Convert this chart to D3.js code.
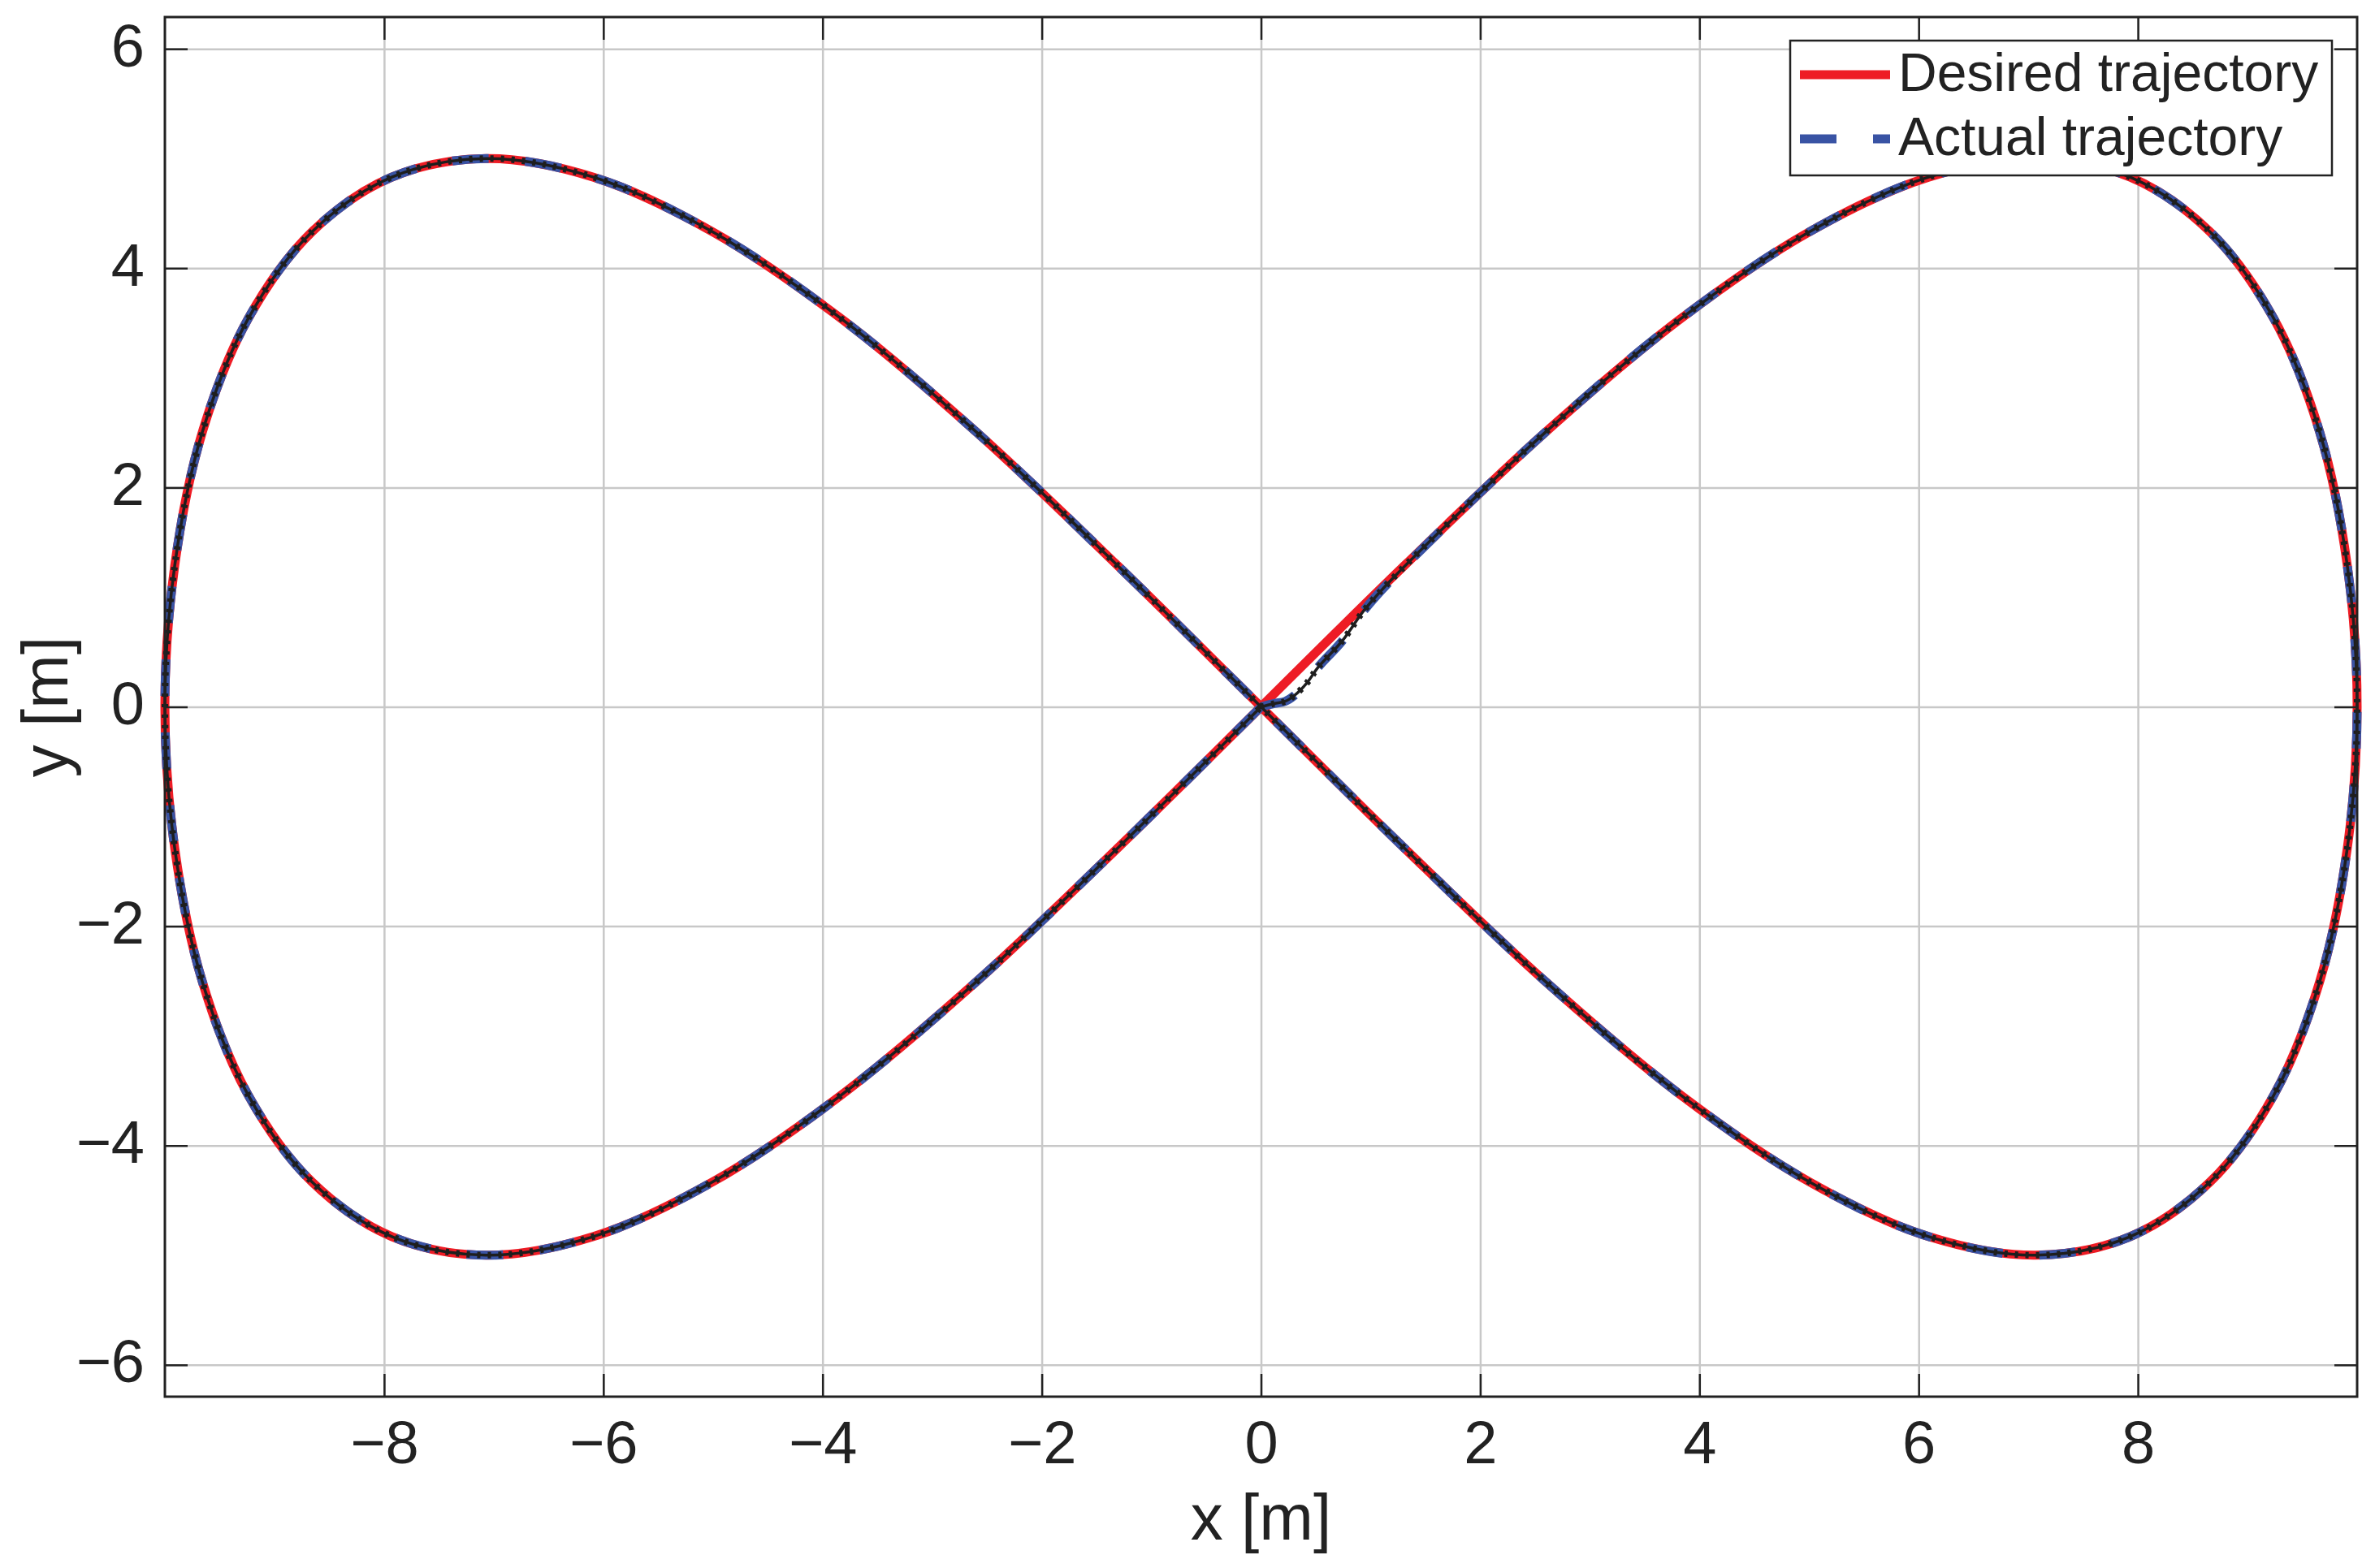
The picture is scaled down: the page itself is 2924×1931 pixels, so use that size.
<!DOCTYPE html>
<html>
<head>
<meta charset="utf-8">
<script src="https://cdn.jsdelivr.net/npm/d3@7"></script>
<style>
  body { margin: 0; background: #fff; }
  svg { display: block; }
  text { font-family: "Liberation Sans", Arial, Helvetica, sans-serif; fill: #222; }
</style>
</head>
<body>
<div id="chart"></div>
<script>
// Desired figure-eight trajectory [m]
var desiredX = [0, 1.31, 2.59, 3.83, 5.00, 6.09, 7.07, 7.93, 8.66, 9.24, 9.66, 9.91, 10.00,
    9.91, 9.66, 9.24, 8.66, 7.93, 7.07, 6.09, 5.00, 3.83, 2.59, 1.31, 0,
    -1.31, -2.59, -3.83, -5.00, -6.09, -7.07, -7.93, -8.66, -9.24, -9.66, -9.91, -10.00,
    -9.91, -9.66, -9.24, -8.66, -7.93, -7.07, -6.09, -5.00, -3.83, -2.59, -1.31, 0];
var desiredY = [0, 1.29, 2.50, 3.54, 4.33, 4.83, 5.00, 4.83, 4.33, 3.54, 2.50, 1.29, 0,
    -1.29, -2.50, -3.54, -4.33, -4.83, -5.00, -4.83, -4.33, -3.54, -2.50, -1.29, 0,
    1.29, 2.50, 3.54, 4.33, 4.83, 5.00, 4.83, 4.33, 3.54, 2.50, 1.29, 0,
    -1.29, -2.50, -3.54, -4.33, -4.83, -5.00, -4.83, -4.33, -3.54, -2.50, -1.29, 0];

// Actual trajectory: start-up transient near the origin, then it tracks the desired path
var actualStartX = [0, 0.12, 0.22, 0.30, 0.42, 0.52, 0.74, 0.94, 1.20];
var actualStartY = [0, 0.03, 0.05, 0.10, 0.22, 0.36, 0.60, 0.88, 1.17];

var xTicks = [-8, -6, -4, -2, 0, 2, 4, 6, 8];
var yTicks = [-6, -4, -2, 0, 2, 4, 6];
var legendLabels = ["Desired trajectory", "Actual trajectory"];

var svgWidth = 2924;
var svgHeight = 1931;
var margin = { top: 21, right: 22, bottom: 211, left: 203 };
var width = svgWidth - margin.left - margin.right;
var height = svgHeight - margin.top - margin.bottom;

var svg = d3.select("#chart")
    .append("svg")
    .attr("width", svgWidth)
    .attr("height", svgHeight);

var chartGroup = svg.append("g")
    .attr("transform", `translate(${margin.left}, ${margin.top})`);

var xLinear = d3.scaleLinear().domain([-10, 10]).range([0, width]);
var yLinear = d3.scaleLinear().domain([-6.29, 6.29]).range([height, 0]);

// grid
chartGroup.append("g")
    .attr("transform", `translate(0, ${height})`)
    .call(d3.axisBottom(xLinear).tickValues(xTicks).tickSize(-height).tickFormat(""))
    .call(g => g.select(".domain").remove())
    .call(g => g.selectAll("line").attr("stroke", "#c8c8c8").attr("stroke-width", 2.5));
chartGroup.append("g")
    .call(d3.axisLeft(yLinear).tickValues(yTicks).tickSize(-width).tickFormat(""))
    .call(g => g.select(".domain").remove())
    .call(g => g.selectAll("line").attr("stroke", "#c8c8c8").attr("stroke-width", 2.5));

// trajectories
var desired = desiredX.map((x, i) => [x, desiredY[i]]);
var actual = actualStartX.map((x, i) => [x, actualStartY[i]]).concat(desired.slice(2));

var line = d3.line()
    .x(d => xLinear(d[0]))
    .y(d => yLinear(d[1]))
    .curve(d3.curveCatmullRom.alpha(0.5));

chartGroup.append("path")
    .datum(desired)
    .attr("d", line)
    .attr("fill", "none")
    .attr("stroke", "#ee1c25")
    .attr("stroke-width", 11);

chartGroup.append("path")
    .datum(actual)
    .attr("d", line)
    .attr("fill", "none")
    .attr("stroke", "#3953a4")
    .attr("stroke-width", 11)
    .attr("stroke-dasharray", "45 45");

// thin black line with small direction markers
chartGroup.append("path")
    .datum(actual)
    .attr("d", line)
    .attr("fill", "none")
    .attr("stroke", "#1e1e1e")
    .attr("stroke-width", 3.5);
chartGroup.append("path")
    .datum(actual)
    .attr("d", line)
    .attr("fill", "none")
    .attr("stroke", "#1e1e1e")
    .attr("stroke-width", 8)
    .attr("stroke-dasharray", "4 9");

// axes with inward ticks on all four sides
function styleAxis(g) {
    g.select(".domain").remove();
    g.selectAll("line").attr("stroke", "#222").attr("stroke-width", 2.5);
    g.selectAll("text")
        .style("font-size", "74px")
        .style("font-family", "'Liberation Sans', Arial, sans-serif")
        .attr("fill", "#222");
}

var bottomAxis = chartGroup.append("g")
    .attr("transform", `translate(0, ${height})`)
    .call(d3.axisBottom(xLinear).tickValues(xTicks).tickSize(-28).tickPadding(0))
    .call(styleAxis);
bottomAxis.selectAll("text").attr("y", 82).attr("dy", null);

chartGroup.append("g")
    .call(d3.axisTop(xLinear).tickValues(xTicks).tickSize(-28).tickFormat(""))
    .call(styleAxis);

var leftAxis = chartGroup.append("g")
    .call(d3.axisLeft(yLinear).tickValues(yTicks).tickSize(-28).tickPadding(0))
    .call(styleAxis);
leftAxis.selectAll("text").attr("x", -25).attr("dy", null).attr("y", 21);

chartGroup.append("g")
    .attr("transform", `translate(${width}, 0)`)
    .call(d3.axisRight(yLinear).tickValues(yTicks).tickSize(-28).tickFormat(""))
    .call(styleAxis);

// box
chartGroup.append("rect")
    .attr("width", width)
    .attr("height", height)
    .attr("fill", "none")
    .attr("stroke", "#222")
    .attr("stroke-width", 3);

// axis labels
svg.append("text")
    .attr("x", margin.left + width / 2)
    .attr("y", 1896)
    .attr("text-anchor", "middle")
    .style("font-size", "80px")
    .text("x [m]");

svg.append("text")
    .attr("transform", `translate(83, ${margin.top + height / 2}) rotate(-90)`)
    .attr("text-anchor", "middle")
    .style("font-size", "80px")
    .text("y [m]");

// legend
var legend = svg.append("g");
legend.append("rect")
    .attr("x", 2204)
    .attr("y", 50)
    .attr("width", 667)
    .attr("height", 166)
    .attr("fill", "#fff")
    .attr("stroke", "#222")
    .attr("stroke-width", 2.5);

var legendRows = legend.selectAll(".row")
    .data(legendLabels)
    .enter()
    .append("g")
    .attr("transform", (d, i) => `translate(2216, ${92 + i * 79})`);

legendRows.append("line")
    .attr("x1", 0)
    .attr("x2", 111)
    .attr("stroke", (d, i) => i === 0 ? "#ee1c25" : "#3953a4")
    .attr("stroke-width", 11)
    .attr("stroke-dasharray", (d, i) => i === 0 ? null : "45 45");

legendRows.append("text")
    .attr("x", 121)
    .attr("y", 20)
    .style("font-size", "66px")
    .text(d => d);
</script>
</body>
</html>
